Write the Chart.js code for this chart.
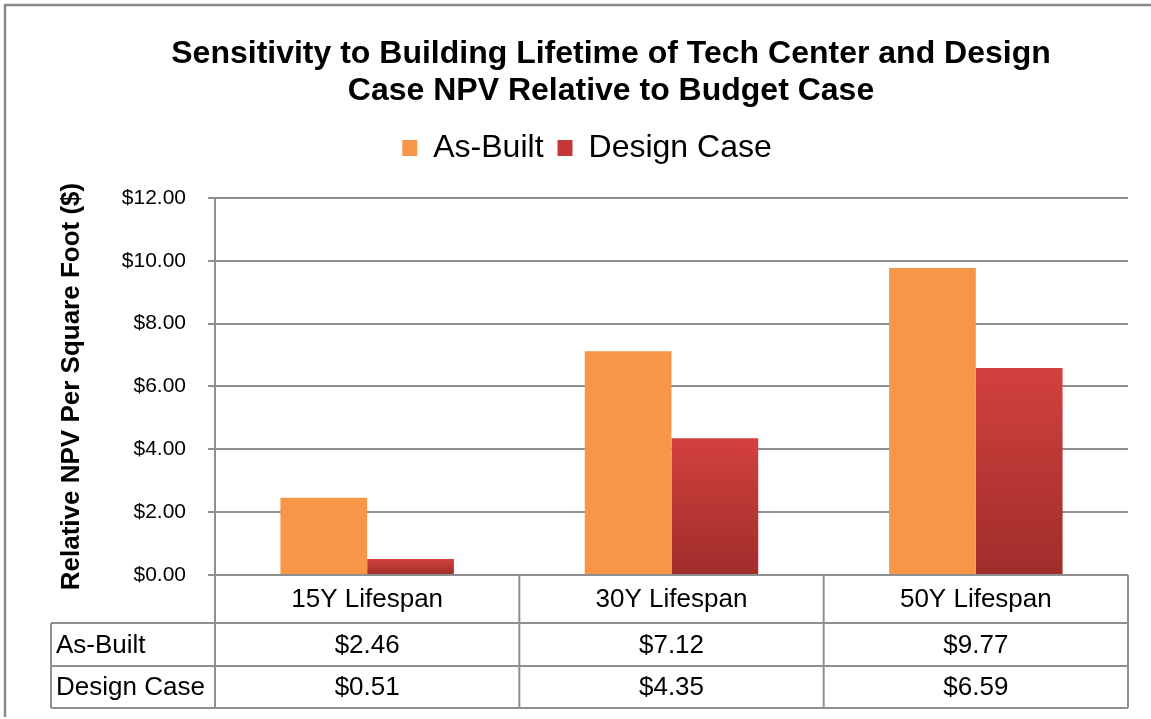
<!DOCTYPE html>
<html>
<head>
<meta charset="utf-8">
<script src="https://cdn.jsdelivr.net/npm/chart.js@4/dist/chart.umd.min.js"></script>
<style>
  html, body { margin: 0; padding: 0; background: #ffffff; }
  #wrap { width: 1151px; height: 719px; position: relative; }
</style>
</head>
<body>
<div id="wrap"><canvas id="c" width="1151" height="719"></canvas></div>
<script>
// ---- data ----
const categories = ['15Y Lifespan', '30Y Lifespan', '50Y Lifespan'];
const seriesNames = ['As-Built', 'Design Case'];
const asBuilt = [2.46, 7.12, 9.77];
const designCase = [0.51, 4.35, 6.59];
const titleLines = ['Sensitivity to Building Lifetime of Tech Center and Design', 'Case NPV Relative to Budget Case'];
const yAxisTitle = 'Relative NPV Per Square Foot ($)';
const yMin = 0, yMax = 12, yStep = 2;

const FONT = "'Liberation Sans', Arial, Helvetica, sans-serif";
const ORANGE = '#F79646';
const RED_TOP = '#D2413D';
const RED_BOTTOM = '#A02D2B';
const LINE = '#8f8f8f';

function money(v) { return '$' + v.toFixed(2); }

function redGradient(ctx) {
  const chart = ctx.chart;
  const { chartArea, scales } = chart;
  if (!chartArea || ctx.type !== 'data' || !scales.y) return '#C0392F';
  const top = scales.y.getPixelForValue(ctx.raw);
  const base = scales.y.getPixelForValue(0);
  const g = chart.ctx.createLinearGradient(0, top, 0, base);
  g.addColorStop(0, RED_TOP);
  g.addColorStop(1, RED_BOTTOM);
  return g;
}

const framePlugin = {
  id: 'frame',
  beforeDraw(chart) {
    const c = chart.ctx;
    c.save();
    c.fillStyle = '#ffffff';
    c.fillRect(0, 0, chart.width, chart.height);
    c.strokeStyle = '#8a8a8a';
    c.lineWidth = 2.5;
    c.beginPath();
    c.moveTo(5, 717);
    c.lineTo(5, 5);
    c.lineTo(chart.width + 5, 5);
    c.stroke();
    c.restore();
  }
};

const legendSpace = {
  id: 'legendSpace',
  beforeInit(chart) {
    const fit = chart.legend.fit;
    chart.legend.fit = function () {
      fit.bind(chart.legend)();
      this.height += 24;
    };
  },
  afterLayout(chart) {
    // horizontal placement of title and legend as in the original
    const t = chart.titleBlock;
    if (t) { t.left += 47; t.right += 47; }
    const l = chart.legend;
    if (l) { l.left += 23; l.right += 23; }
  }
};

const tablePlugin = {
  id: 'dataTable',
  afterDraw(chart) {
    const { ctx, chartArea, scales } = chart;
    const x = scales.x;
    const top = chartArea.bottom;
    const rows = [top, top + 48, top + 91, top + 133];
    const leftEdge = 51;
    const n = categories.length;
    const half = (x.getPixelForValue(1) - x.getPixelForValue(0)) / 2;
    const cols = [x.getPixelForValue(0) - half];
    categories.forEach((c, i) => cols.push(x.getPixelForValue(i) + half));
    ctx.save();
    ctx.strokeStyle = LINE;
    ctx.lineWidth = 2;
    ctx.beginPath();
    ctx.moveTo(cols[0], rows[0]); ctx.lineTo(cols[n], rows[0]);
    for (let r = 1; r < rows.length; r++) {
      ctx.moveTo(leftEdge, rows[r]); ctx.lineTo(cols[n], rows[r]);
    }
    cols.forEach(cx => { ctx.moveTo(cx, rows[0]); ctx.lineTo(cx, rows[3]); });
    ctx.moveTo(leftEdge, rows[1]); ctx.lineTo(leftEdge, rows[3]);
    ctx.stroke();

    ctx.fillStyle = '#000000';
    ctx.font = '26px ' + FONT;
    ctx.textBaseline = 'middle';
    const series = [asBuilt, designCase];
    series.forEach((vals, r) => {
      const cy = (rows[r + 1] + rows[r + 2]) / 2 + 1;
      ctx.textAlign = 'left';
      ctx.fillText(seriesNames[r], leftEdge + 5, cy);
      ctx.textAlign = 'center';
      vals.forEach((v, i) => ctx.fillText(money(v), x.getPixelForValue(i), cy));
    });
    ctx.restore();
  }
};

new Chart(document.getElementById('c'), {
  type: 'bar',
  data: {
    labels: categories,
    datasets: [
      { label: seriesNames[0], data: asBuilt, backgroundColor: ORANGE, borderWidth: 0 },
      { label: seriesNames[1], data: designCase, backgroundColor: redGradient, borderWidth: 0 }
    ]
  },
  options: {
    responsive: false,
    animation: false,
    devicePixelRatio: 1,
    layout: { padding: { left: 0, right: 23, top: 0, bottom: 0 } },
    datasets: { bar: { categoryPercentage: 0.57, barPercentage: 1.0 } },
    plugins: {
      title: {
        display: true,
        text: titleLines,
        color: '#000000',
        font: { family: FONT, size: 32, weight: 'bold', lineHeight: 1.156 },
        padding: { top: 36, bottom: 8 }
      },
      legend: {
        display: true,
        position: 'top',
        labels: {
          color: '#000000',
          font: { family: FONT, size: 32 },
          boxWidth: 15,
          boxHeight: 16,
          padding: 14,
          generateLabels(chart) {
            return [
              { text: seriesNames[0], fillStyle: ORANGE, strokeStyle: ORANGE, lineWidth: 0, datasetIndex: 0, hidden: false },
              { text: seriesNames[1], fillStyle: '#C4383A', strokeStyle: '#C4383A', lineWidth: 0, datasetIndex: 1, hidden: false }
            ];
          }
        }
      },
      tooltip: { enabled: false }
    },
    scales: {
      x: {
        grid: { display: false, drawTicks: false },
        border: { display: false },
        ticks: { color: '#000000', font: { family: FONT, size: 26 }, padding: 9 },
        afterFit(s) { s.height = 144; }
      },
      y: {
        min: yMin, max: yMax,
        ticks: { stepSize: yStep, color: '#000000', font: { family: FONT, size: 21 }, padding: 22, callback: v => money(v) },
        grid: { color: LINE, lineWidth: 2, tickLength: 7, drawTicks: true },
        border: { display: true, color: LINE, width: 2 },
        title: {
          display: true, text: yAxisTitle, color: '#000000',
          font: { family: FONT, size: 26, weight: 'bold', lineHeight: 1.2 },
          padding: { top: 56, bottom: 0 }
        },
        afterFit(s) { s.width = 215; }
      }
    }
  },
  plugins: [framePlugin, legendSpace, tablePlugin]
});
</script>
</body>
</html>
